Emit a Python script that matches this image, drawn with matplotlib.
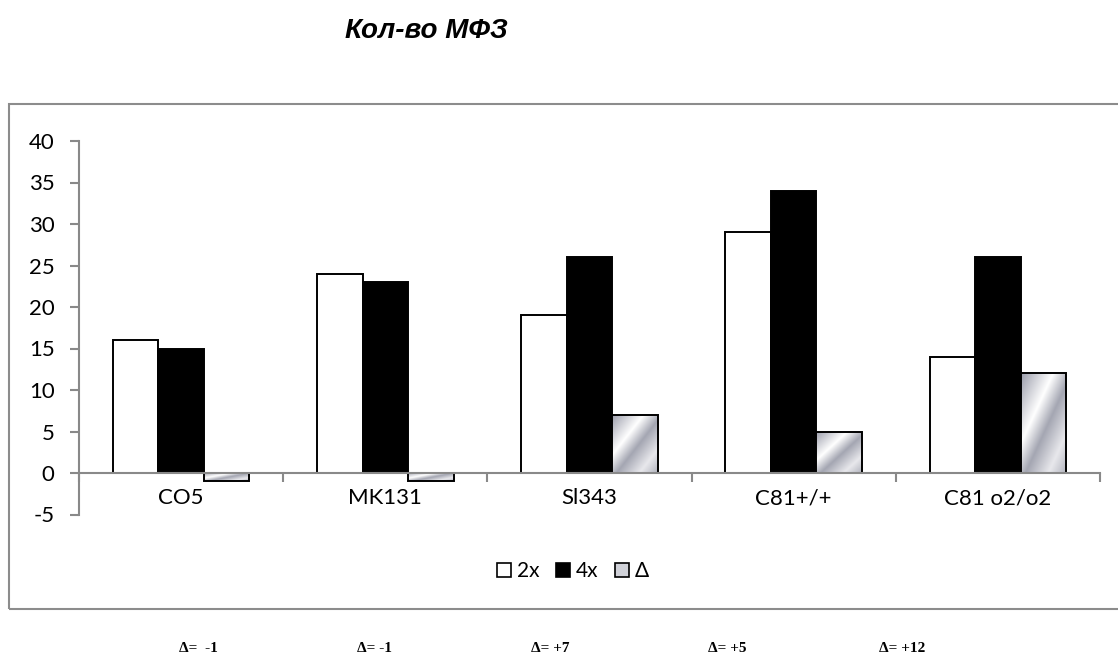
import matplotlib
matplotlib.use('Agg')
import matplotlib.pyplot as plt
import numpy as np
from matplotlib.patches import Patch, Rectangle
from matplotlib.colors import LinearSegmentedColormap

plt.rcParams['axes.unicode_minus'] = False

# data
categories = ['CO5', 'MK131', 'Sl343', 'C81+/+', 'C81 o2/o2']
vals_2x = [16, 24, 19, 29, 14]
vals_4x = [15, 23, 26, 34, 26]
vals_delta = [-1, -1, 7, 5, 12]
delta_notes = ['Δ=  -1', 'Δ= -1', 'Δ= +7', 'Δ= +5', 'Δ= +12']
note_x = [198, 374, 550, 727, 902]  # pixel positions of the notes under the chart
y_ticks = list(range(-5, 45, 5))

axis_gray = '#898989'
silver = LinearSegmentedColormap.from_list(
    'silver', [(0, '#9a9caa'), (0.35, '#ffffff'), (0.55, '#a4a6b2'),
               (0.8, '#e8e8ec'), (1, '#b2b4be')])

fig = plt.figure(figsize=(11.18, 6.57), dpi=100)
ax = fig.add_axes([79 / 1118, 1 - 514.5 / 657, (1100 - 79) / 1118, (514.5 - 141) / 657])

x = np.arange(len(categories))
w = 0.223
ax.bar(x - w, vals_2x, w, color='white', edgecolor='black', linewidth=1.4, zorder=3)
ax.bar(x, vals_4x, w, color='black', edgecolor='black', linewidth=1.4, zorder=3)
dbars = ax.bar(x + w, vals_delta, w, color='none', edgecolor='black', linewidth=1.4, zorder=4)

# metallic diagonal gradient inside the delta bars
g = np.linspace(0, 1, 200)
gx, gy = np.meshgrid(g, g)
metal = (gx - gy + 1) / 2
for b in dbars:
    x0, y0 = b.get_x(), b.get_y()
    x1, y1 = x0 + b.get_width(), y0 + b.get_height()
    im = ax.imshow(metal, extent=[x0, x1, min(y0, y1), max(y0, y1)], aspect='auto',
                   cmap=silver, vmin=0, vmax=1, zorder=3.5, origin='lower')
    im.set_clip_path(b)

ax.set_xlim(-0.5, len(categories) - 0.5)
ax.set_ylim(-5, 40)
ax.set_aspect('auto')

for s in ['top', 'right']:
    ax.spines[s].set_visible(False)
ax.spines['left'].set_color(axis_gray)
ax.spines['left'].set_linewidth(1.5)
ax.spines['bottom'].set_position(('data', 0))
ax.spines['bottom'].set_color(axis_gray)
ax.spines['bottom'].set_linewidth(1.5)
ax.spines['bottom'].set_zorder(5)

ax.set_yticks(y_ticks)
ax.tick_params(axis='y', direction='out', length=6.5, width=1.5, color=axis_gray,
               labelsize=16, pad=11)
ax.set_xticks(np.arange(len(categories) + 1) - 0.5)
ax.set_xticklabels([])
ax.set_xticks(x, minor=True)
ax.set_xticklabels(categories, minor=True)
ax.tick_params(axis='x', which='major', direction='out', length=6.5, width=1.5, color=axis_gray)
ax.tick_params(axis='x', which='minor', length=0, labelsize=16, pad=11)
for lab in ax.get_xticklabels(minor=True) + ax.get_yticklabels():
    lab.set_fontfamily('Lato')

# title
fig.text(426 / 1118, 1 - 38 / 657, 'Кол-во МФЗ', ha='center', va='baseline', fontsize=20,
         fontweight='bold', fontstyle='italic', family='Liberation Sans')

# legend
handles = [Patch(facecolor='white', edgecolor='black', linewidth=1.2, label='2x'),
           Patch(facecolor='black', edgecolor='black', linewidth=1.2, label='4x'),
           Patch(facecolor='#d0d1d8', edgecolor='black', linewidth=1.2, label='Δ')]
fig.legend(handles=handles, loc='center', bbox_to_anchor=(573 / 1118, 1 - 571 / 657), ncol=3,
           frameon=False, prop={'family': 'Lato', 'size': 15}, handlelength=0.65,
           handleheight=0.65, handletextpad=0.3, columnspacing=0.8)

# outer frame (right side runs off the picture)
fig.patches.append(Rectangle((9 / 1118, 1 - 609 / 657), 1.2, (609 - 104) / 657,
                             transform=fig.transFigure, fill=False, edgecolor='#8c8c8c',
                             linewidth=1.5, clip_on=False))

# delta notes under the chart
for px, t in zip(note_x, delta_notes):
    fig.text(px / 1118, 1 - 648 / 657, t, ha='center', va='center', fontsize=11,
             fontweight='bold', family='Liberation Serif')

fig.savefig('out.png', dpi=100)
